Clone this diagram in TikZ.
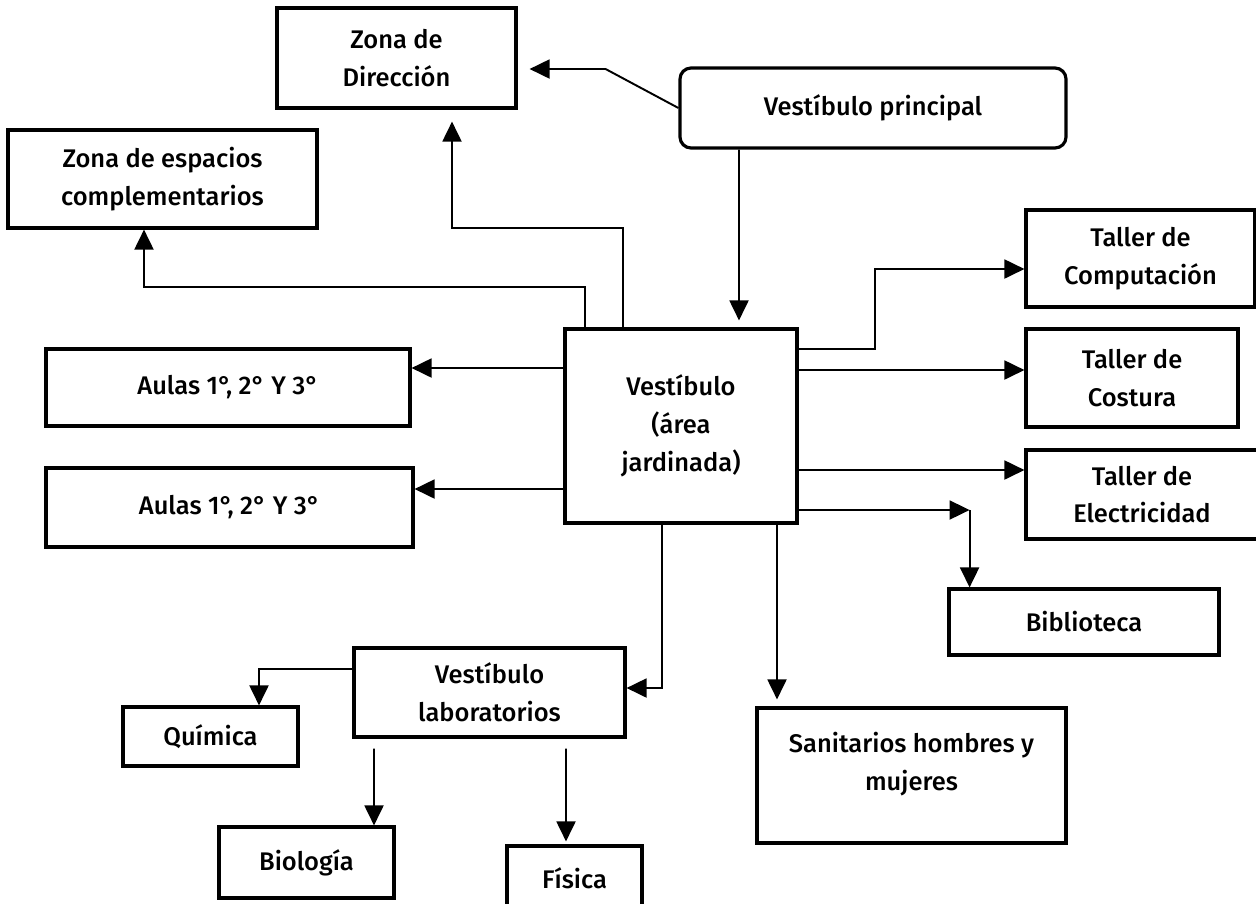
\documentclass[tikz,border=0pt]{standalone}
\usepackage{fontspec}
\setmainfont{Fira Sans}[UprightFont={* Medium}]
\usetikzlibrary{arrows.meta}

\begin{document}
\begin{tikzpicture}[
  font=\fontsize{14.5}{21.5}\selectfont,
  caja/.style={draw, line width=1.8pt, align=center, inner sep=0pt},
  flecha/.style={line width=1.1pt, -{Triangle[length=0.4cm, width=0.38cm]}}
]
\useasboundingbox (0,0) rectangle (25.12,-18.06);

% --- upper zones ---
\node[caja, minimum width=4.78cm, minimum height=2cm] (dir) at (7.93,-1.16) {Zona de\\Dirección};
\node[caja, rounded corners=0.22cm, minimum width=7.72cm, minimum height=1.6cm] (vprin) at (17.46,-2.16) {Vestíbulo principal};
\node[caja, minimum width=6.18cm, minimum height=1.96cm] (comp) at (3.25,-3.58) {Zona de espacios\\complementarios};

% --- central hall + classrooms ---
\node[caja, minimum width=4.64cm, minimum height=3.88cm] (vest) at (13.62,-8.52) {Vestíbulo\\(área\\jardinada)};
\node[caja, minimum width=7.28cm, minimum height=1.54cm] (aulasA) at (4.56,-7.75) {Aulas 1°, 2° Y 3°};
\node[caja, minimum width=7.34cm, minimum height=1.58cm] (aulasB) at (4.59,-10.15) {Aulas 1°, 2° Y 3°};

% --- workshops ---
\node[caja, minimum width=4.58cm, minimum height=1.94cm] (tcomp) at (22.81,-5.17) {Taller de\\Computación};
\node[caja, minimum width=4.24cm, minimum height=1.96cm] (tcost) at (22.64,-7.56) {Taller de\\Costura};
\node[caja, minimum width=4.64cm, minimum height=1.78cm] (telec) at (22.84,-9.89) {Taller de\\Electricidad};
\node[caja, minimum width=5.4cm, minimum height=1.32cm] (bib) at (21.68,-12.44) {Biblioteca};
\node[caja, minimum width=6.18cm, minimum height=2.7cm] (sanit) at (18.23,-15.51) {Sanitarios hombres y\\mujeres\\[-0.2cm]\mbox{}};

% --- labs ---
\node[caja, minimum width=5.42cm, minimum height=1.78cm] (labs) at (9.79,-13.85) {Vestíbulo\\laboratorios};
\node[caja, minimum width=3.5cm, minimum height=1.18cm] (quim) at (4.21,-14.73) {Química};
\node[caja, minimum width=3.5cm, minimum height=1.42cm] (bio) at (6.13,-17.25) {Biología};
\node[caja, minimum width=2.7cm, minimum height=1.28cm] (fis) at (11.49,-17.56) {Física};

% --- connectors, top ---
\draw[flecha] (vprin.west) -- ([xshift=1.76cm,yshift=-0.22cm]dir.east) -- ([xshift=0.24cm,yshift=-0.22cm]dir.east);
\draw[flecha, shorten >=0.14cm] ([xshift=-2.68cm]vprin.south) -- ([xshift=1.16cm]vest.north);
\draw[flecha, shorten >=0.24cm] ([xshift=-1.16cm]vest.north) -- ++(0,1.98) -| ([xshift=1.11cm]dir.south);
\draw[flecha] ([xshift=-1.92cm]vest.north) -- ++(0,0.8) -| ([xshift=-0.37cm]comp.south);

% --- connectors, sides ---
\foreach \dy/\dest in {1.16/aulasA, -1.26/aulasB}
  \draw[flecha] ([yshift=\dy cm]vest.west) -- ([yshift=\dy cm]vest.west -| \dest.east);
\foreach \dy/\dest in {1.12/tcost, -0.88/telec}
  \draw[flecha] ([yshift=\dy cm]vest.east) -- ([yshift=\dy cm]vest.east -| \dest.west);
\draw[flecha] ([yshift=1.54cm]vest.east) -- ++(1.52,0) |- ([yshift=-0.21cm]tcomp.west);
\coordinate (codo) at ([xshift=3.42cm,yshift=-1.68cm]vest.east);
\draw[flecha] ([yshift=-1.68cm]vest.east) -- (codo);
\draw[flecha] (codo) -- (codo |- bib.north);

% --- connectors, bottom ---
\draw[flecha, shorten >=0.14cm] ([xshift=1.92cm]vest.south) -- ([xshift=-2.69cm]sanit.north);
\draw[flecha] ([xshift=-0.38cm]vest.south) |- ([yshift=0.09cm]labs.east);
\draw[flecha] ([yshift=0.47cm]labs.west) -| ([xshift=0.97cm]quim.north);
\draw[flecha] ([xshift=-2.31cm,yshift=-0.2cm]labs.south) -- ([xshift=1.35cm]bio.north);
\draw[flecha, shorten >=0.06cm] ([xshift=1.53cm,yshift=-0.2cm]labs.south) -- ([xshift=-0.17cm]fis.north);

\end{tikzpicture}
\end{document}
